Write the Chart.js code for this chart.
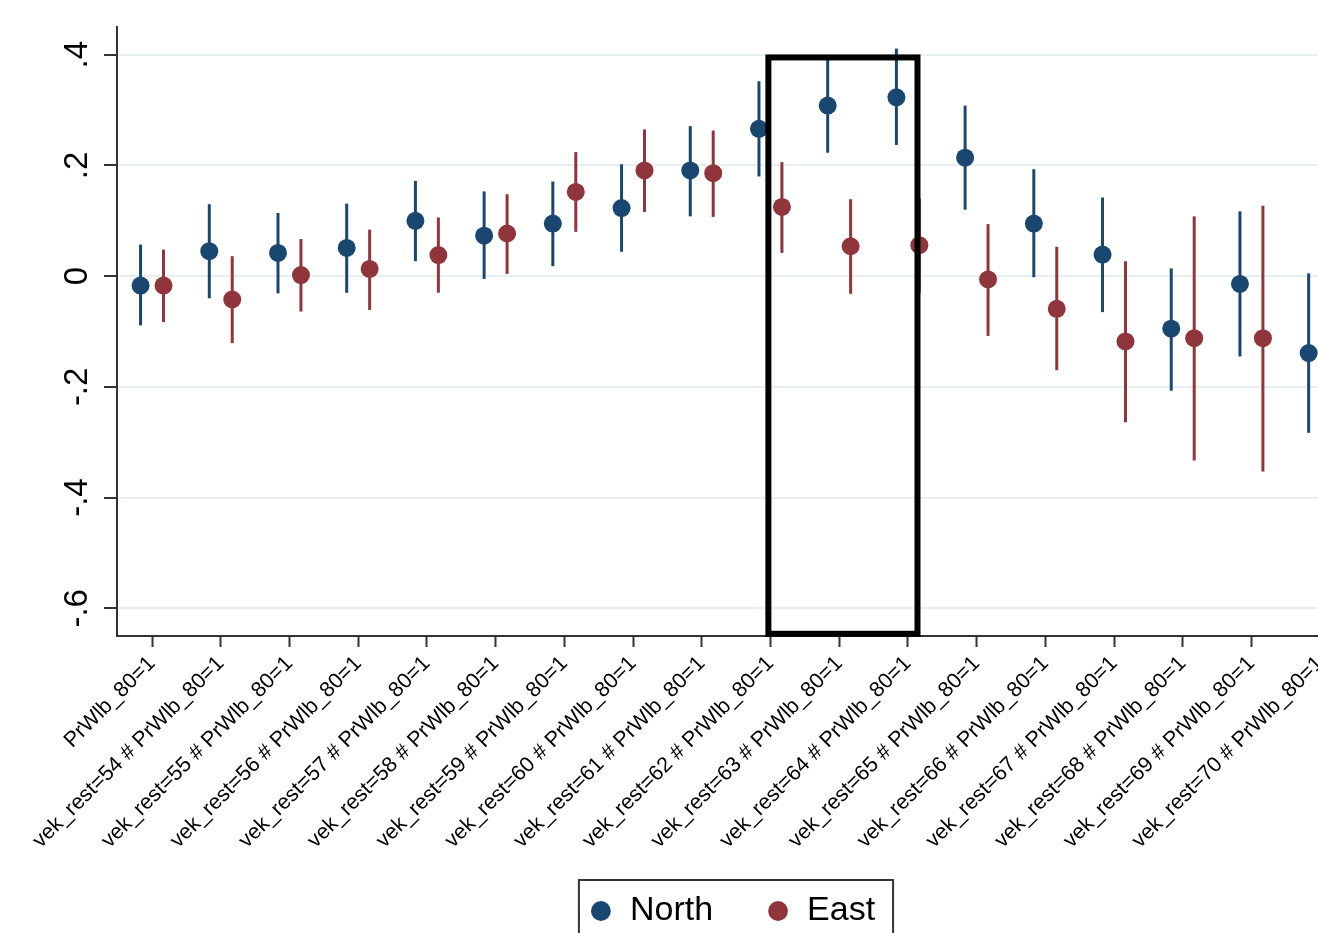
<!DOCTYPE html>
<html>
<head>
<meta charset="utf-8">
<title>Coefficients by age, North vs East</title>
<script src="https://cdn.jsdelivr.net/npm/chart.js@4.4.0/dist/chart.umd.min.js"></script>
<style>
  html, body { margin: 0; padding: 0; background: #fff; overflow: hidden; }
  #frame { width: 1318px; height: 933px; overflow: hidden; }
  #chart { display: block; }
</style>
</head>
<body>
<div id="frame"><canvas id="chart" width="1470" height="945"></canvas></div>
<script>
// categories on the x axis
const categories = [
    'PrWlb_80=1',
    'vek_rest=54 # PrWlb_80=1', 'vek_rest=55 # PrWlb_80=1', 'vek_rest=56 # PrWlb_80=1',
    'vek_rest=57 # PrWlb_80=1', 'vek_rest=58 # PrWlb_80=1', 'vek_rest=59 # PrWlb_80=1',
    'vek_rest=60 # PrWlb_80=1', 'vek_rest=61 # PrWlb_80=1', 'vek_rest=62 # PrWlb_80=1',
    'vek_rest=63 # PrWlb_80=1', 'vek_rest=64 # PrWlb_80=1', 'vek_rest=65 # PrWlb_80=1',
    'vek_rest=66 # PrWlb_80=1', 'vek_rest=67 # PrWlb_80=1', 'vek_rest=68 # PrWlb_80=1',
    'vek_rest=69 # PrWlb_80=1', 'vek_rest=70 # PrWlb_80=1'
];

// North: point estimates and confidence bounds
const northEst = [-0.017, 0.045, 0.042, 0.051, 0.100, 0.073, 0.095, 0.123, 0.191, 0.266, 0.308, 0.323, 0.214, 0.095, 0.039, -0.095, -0.014, -0.139];
const northLo  = [-0.089, -0.040, -0.031, -0.030, 0.027, -0.005, 0.018, 0.044, 0.108, 0.180, 0.223, 0.237, 0.120, -0.002, -0.065, -0.207, -0.145, -0.283];
const northHi  = [0.057, 0.130, 0.114, 0.131, 0.172, 0.153, 0.171, 0.202, 0.271, 0.352, 0.391, 0.411, 0.308, 0.193, 0.142, 0.014, 0.117, 0.005];

// East: point estimates and confidence bounds (last one falls outside the picture)
const eastEst = [-0.017, -0.042, 0.002, 0.013, 0.038, 0.077, 0.152, 0.191, 0.186, 0.125, 0.054, 0.056, -0.006, -0.059, -0.118, -0.112, -0.112, null];
const eastLo  = [-0.083, -0.121, -0.064, -0.061, -0.030, 0.004, 0.080, 0.116, 0.107, 0.042, -0.032, -0.030, -0.108, -0.170, -0.264, -0.333, -0.353, null];
const eastHi  = [0.048, 0.036, 0.067, 0.084, 0.106, 0.148, 0.224, 0.265, 0.263, 0.206, 0.139, 0.140, 0.094, 0.053, 0.027, 0.108, 0.127, null];

// y axis ticks
const yTickValues = [0.4, 0.2, 0, -0.2, -0.4, -0.6];
const yTickLabels = ['.4', '.2', '0', '-.2', '-.4', '-.6'];

// highlighted block (categories and value range)
const highlightCats = ['vek_rest=62 # PrWlb_80=1', 'vek_rest=64 # PrWlb_80=1'];
const highlightRange = [-0.646, 0.395];

const NAVY = '#1a476f';
const MAROON = '#90353b';
const OFFSET = 0.167;

Chart.defaults.font.family = "'Liberation Sans', Arial, sans-serif";
Chart.defaults.color = '#000';

function pointsOf(est, off) {
    const out = [];
    est.forEach((v, i) => { if (v !== null) out.push({x: i + off, y: v}); });
    return out;
}

function rangesOf(lo, hi, off) {
    const out = [];
    lo.forEach((v, i) => { if (v !== null) out.push({x: i + off, y: [v, hi[i]]}); });
    return out;
}

// black box around the highlighted categories + frame around the legend
const framesPlugin = {
    id: 'frames',
    afterDatasetsDraw(chart) {
        const {ctx, scales: {x, y}} = chart;
        const i0 = categories.indexOf(highlightCats[0]);
        const i1 = categories.indexOf(highlightCats[1]);
        const left = x.getPixelForValue(i0 - 0.03);
        const right = x.getPixelForValue(i1 + 0.14);
        const top = y.getPixelForValue(highlightRange[1]);
        const bottom = y.getPixelForValue(highlightRange[0]);
        ctx.save();
        ctx.strokeStyle = '#000';
        ctx.lineWidth = 6;
        ctx.strokeRect(left, top, right - left, bottom - top);
        ctx.restore();
    },
    afterDraw(chart) {
        const boxes = chart.legend && chart.legend.legendHitBoxes;
        if (!boxes || !boxes.length) return;
        const l = Math.min(...boxes.map(b => b.left)) - 10;
        const r = Math.max(...boxes.map(b => b.left + b.width)) + 18;
        const t = Math.min(...boxes.map(b => b.top)) - 14;
        const b = Math.max(...boxes.map(b => b.top + b.height)) + 14;
        const ctx = chart.ctx;
        ctx.save();
        ctx.strokeStyle = '#333';
        ctx.lineWidth = 2;
        ctx.strokeRect(l, t, r - l, b - t);
        ctx.restore();
    }
};

const ctx = document.getElementById('chart').getContext('2d');
new Chart(ctx, {
    type: 'scatter',
    data: {
        datasets: [
            {
                label: 'North',
                data: pointsOf(northEst, -OFFSET),
                backgroundColor: NAVY,
                borderColor: NAVY,
                pointRadius: 9,
                pointBorderWidth: 0,
                order: 0
            },
            {
                label: 'East',
                data: pointsOf(eastEst, OFFSET),
                backgroundColor: MAROON,
                borderColor: MAROON,
                pointRadius: 9,
                pointBorderWidth: 0,
                order: 0
            },
            {
                type: 'bar',
                label: 'North CI',
                data: rangesOf(northLo, northHi, -OFFSET),
                backgroundColor: NAVY,
                borderWidth: 0,
                grouped: false,
                maxBarThickness: 3,
                order: 1
            },
            {
                type: 'bar',
                label: 'East CI',
                data: rangesOf(eastLo, eastHi, OFFSET),
                backgroundColor: MAROON,
                borderWidth: 0,
                grouped: false,
                maxBarThickness: 3,
                order: 1
            }
        ]
    },
    options: {
        responsive: false,
        animation: false,
        devicePixelRatio: 1,
        layout: {
            padding: {top: 27, left: 0, right: 6, bottom: 7}
        },
        plugins: {
            tooltip: {enabled: false},
            legend: {
                position: 'bottom',
                align: 'center',
                labels: {
                    usePointStyle: true,
                    boxWidth: 24,
                    boxHeight: 14,
                    padding: 36,
                    color: '#000',
                    font: {size: 34},
                    filter: item => item.datasetIndex < 2,
                    generateLabels: chart => {
                        const items = Chart.defaults.plugins.legend.labels.generateLabels(chart);
                        // a little extra room after the first entry, as in the Stata legend
                        items.forEach(item => { if (item.datasetIndex === 0) item.text = item.text + '\u2002'; });
                        return items;
                    }
                }
            }
        },
        scales: {
            x: {
                type: 'linear',
                min: -0.51,
                max: 19.05,
                offset: false,
                afterBuildTicks: scale => { scale.ticks = categories.map((c, i) => ({value: i})); },
                afterFit: scale => { scale.height = 222; },
                border: {color: '#333', width: 2},
                grid: {
                    offset: false,
                    drawOnChartArea: false,
                    drawTicks: true,
                    tickLength: 11,
                    tickColor: '#333',
                    tickWidth: 2
                },
                ticks: {
                    autoSkip: false,
                    minRotation: 45,
                    maxRotation: 45,
                    padding: 4,
                    color: '#000',
                    font: {size: 21.5},
                    callback: value => categories[value]
                }
            },
            y: {
                type: 'linear',
                min: -0.65,
                max: 0.45,
                beginAtZero: false,
                afterBuildTicks: scale => { scale.ticks = yTickValues.map(v => ({value: v})); },
                afterFit: scale => { scale.width = 117; },
                border: {color: '#333', width: 2},
                grid: {
                    color: '#e8eff2',
                    lineWidth: 2,
                    tickColor: '#333',
                    tickWidth: 2,
                    tickLength: 13
                },
                ticks: {
                    autoSkip: false,
                    minRotation: 90,
                    maxRotation: 90,
                    crossAlign: 'center',
                    padding: 7,
                    color: '#000',
                    font: {size: 33},
                    callback: value => yTickLabels[yTickValues.findIndex(t => Math.abs(t - value) < 1e-9)]
                }
            }
        }
    },
    plugins: [framesPlugin]
});
</script>
</body>
</html>
